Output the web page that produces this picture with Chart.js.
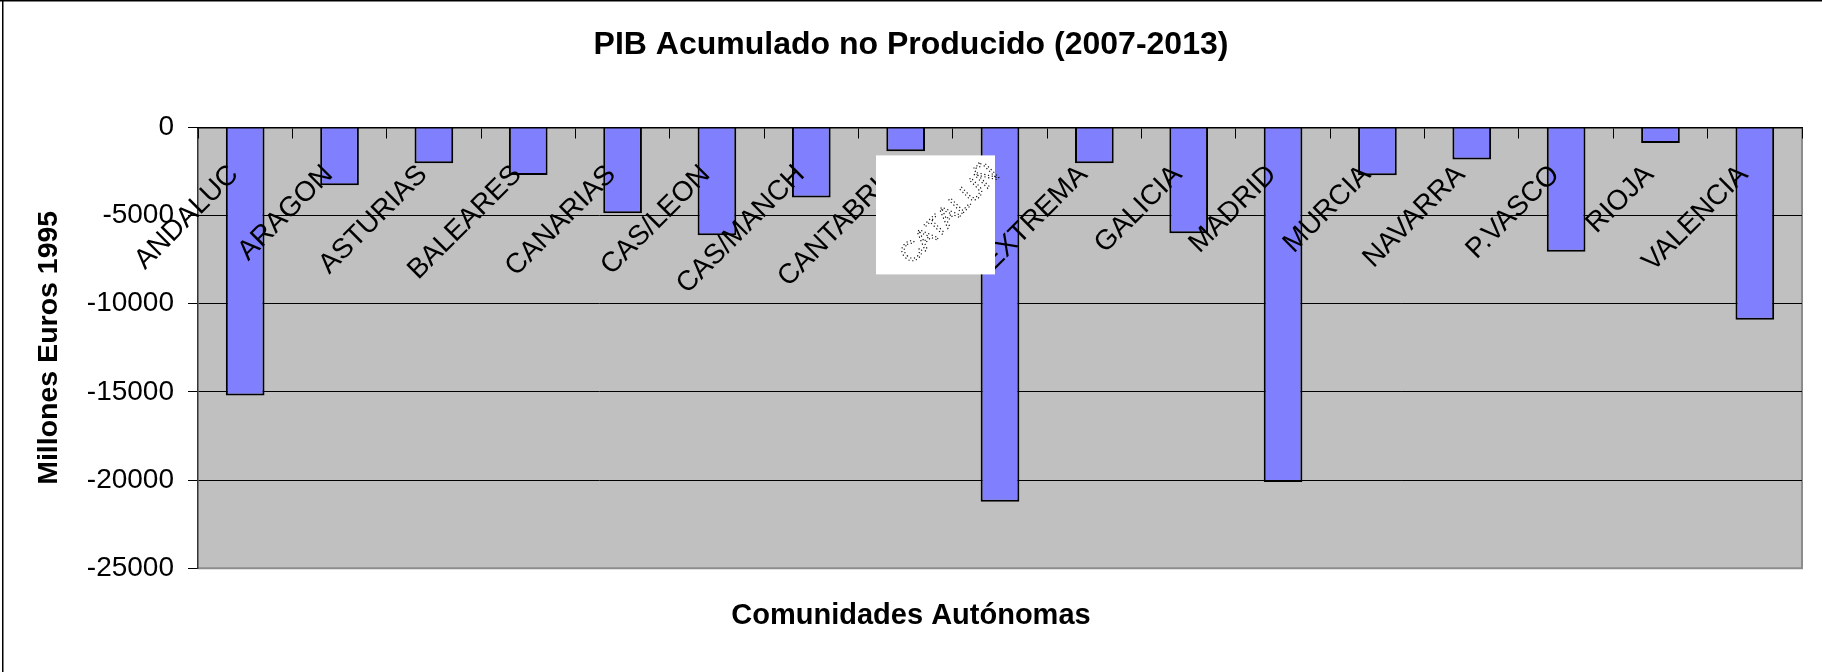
<!DOCTYPE html>
<html><head><meta charset="utf-8">
<script src="https://cdn.jsdelivr.net/npm/chart.js@4"></script>
<style>html,body{margin:0;padding:0;background:#fff}canvas{display:block}</style>
</head><body>
<canvas id="c" width="1822" height="672" style="width:1822px;height:672px"></canvas>
<script>
const categories = ['ANDALUC','ARAGON','ASTURIAS','BALEARES','CANARIAS','CAS/LEON','CAS/MANCH','CANTABRIA','CATALUÑ','EXTREMA','GALICIA','MADRID','MURCIA','NAVARRA','P.VASCO','RIOJA','VALENCIA'];
const pibNoProducido = [-15200,-3280,-2030,-2700,-4870,-6120,-3980,-1350,-21230,-2030,-6000,-20110,-2710,-1820,-7050,-890,-10910];
const yMin = -25000;
const yMax = 0;
const yStep = 5000;
const chartTitle = 'PIB Acumulado no Producido (2007-2013)';
const yTitle = 'Millones Euros 1995';
const xTitle = 'Comunidades Autónomas';
const boxedIndex = 8;

const FONT = "'Liberation Sans', Arial, Helvetica, sans-serif";
Chart.defaults.font.family = FONT;
Chart.defaults.color = '#000';

const frame = {
  id: 'frame',
  beforeDraw(chart) {
    const {ctx, chartArea: a} = chart;
    ctx.save();
    ctx.fillStyle = '#fff';
    ctx.fillRect(0, 0, chart.width, chart.height);
    ctx.fillStyle = '#C0C0C0';
    ctx.fillRect(a.left, a.top, a.right - a.left, a.bottom - a.top);
    ctx.strokeStyle = '#8c8c8c';
    ctx.lineWidth = 2;
    ctx.beginPath();
    ctx.moveTo(a.right, a.top);
    ctx.lineTo(a.right, a.bottom);
    ctx.lineTo(a.left, a.bottom);
    ctx.stroke();
    ctx.restore();
  },
  afterDraw(chart) {
    const {ctx} = chart;
    const xs = chart.scales.x, ys = chart.scales.y;
    const cx = xs.getPixelForValue(boxedIndex);
    const y0 = ys.getPixelForValue(0);
    ctx.save();
    ctx.fillStyle = '#fff';
    ctx.fillRect(cx - 124, y0 + 28, 119, 119);
    const lh = 28 * 1.2;
    ctx.translate(cx - 5 - 0.3536 * lh, y0 + 31);
    ctx.rotate(-Math.PI / 4);
    ctx.font = '28px ' + FONT;
    ctx.textAlign = 'right';
    ctx.textBaseline = 'middle';
    ctx.setLineDash([1.2, 2.6]);
    ctx.lineWidth = 1.1;
    ctx.strokeStyle = '#000';
    ctx.strokeText(categories[boxedIndex], 0, lh / 2);
    ctx.restore();
    ctx.save();
    ctx.fillStyle = '#000';
    ctx.fillRect(0, 0, chart.width, 1.5);
    ctx.fillRect(2, 0, 1.5, chart.height);
    ctx.restore();
  }
};

new Chart(document.getElementById('c'), {
  type: 'bar',
  data: {
    labels: categories,
    datasets: [{
      data: pibNoProducido,
      backgroundColor: '#8080FF',
      borderColor: '#000',
      borderWidth: 2,
      barPercentage: 0.41,
      categoryPercentage: 1
    }]
  },
  options: {
    responsive: false,
    animation: false,
    layout: {padding: {left: 10, right: 10, top: 0, bottom: 0}},
    plugins: {
      legend: {display: false},
      tooltip: {enabled: false},
      title: {display: true, text: chartTitle, color: '#000', font: {size: 32, weight: 'bold'}, padding: {top: 26, bottom: 63}},
      subtitle: {display: true, position: 'bottom', text: xTitle, color: '#000', font: {size: 29, weight: 'bold'}, padding: {top: 30, bottom: 39}}
    },
    scales: {
      x: {
        type: 'category',
        position: {y: 0},
        offset: true,
        grid: {display: true, offset: true, drawOnChartArea: false, drawTicks: true, tickLength: 10, color: '#000', tickColor: '#000', lineWidth: 1, z: 1},
        border: {display: true, color: '#000', width: 1.5, z: 1},
        ticks: {
          z: 1,
          autoSkip: false, minRotation: 45, maxRotation: 45, padding: 21,
          labelOffset: -11,
          font: {size: 28},
          color: c => c.index === boxedIndex ? 'rgba(0,0,0,0)' : '#000'
        }
      },
      y: {
        min: yMin, max: yMax,
        position: 'left',
        afterFit(s) { s.width = 188; },
        ticks: {stepSize: yStep, font: {size: 28}, padding: 14, color: '#000', callback: v => String(v)},
        grid: {
          color: c => (c.tick && c.tick.value > yMin && c.tick.value < yMax) ? '#000' : 'rgba(0,0,0,0)',
          tickColor: '#000', tickLength: 10, lineWidth: 1, drawTicks: true
        },
        border: {display: true, color: '#333', width: 1.5},
        title: {display: true, text: yTitle, color: '#000', font: {size: 28.5, weight: 'bold'}, padding: {top: 22, bottom: 0}}
      },
      yR: {
        position: 'right',
        display: true,
        afterFit(s) { s.width = 10; },
        ticks: {display: false},
        grid: {display: false},
        border: {display: false}
      }
    }
  },
  plugins: [frame]
});
</script>
</body></html>
